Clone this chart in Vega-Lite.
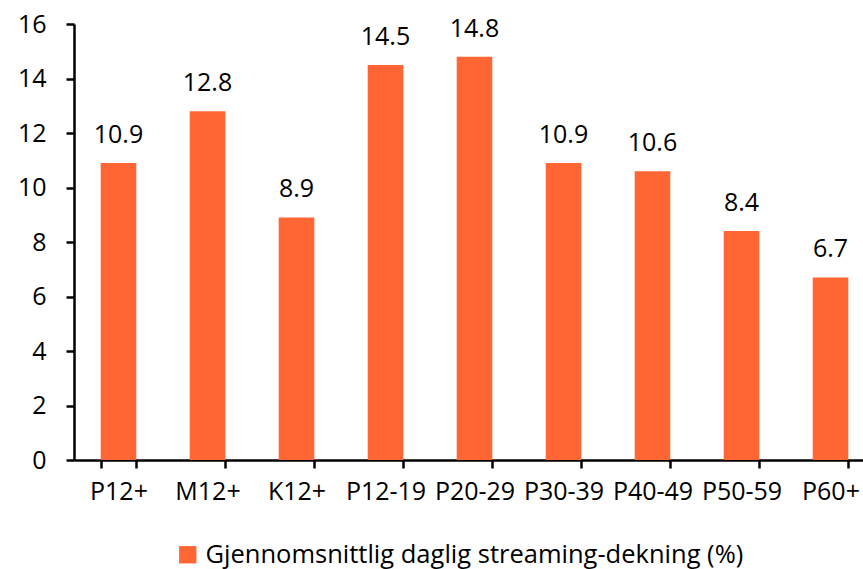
{
  "$schema": "https://vega.github.io/schema/vega-lite/v6.json",
  "autosize": {"type": "none"},
  "padding": {"left": 74, "top": 24, "right": 0, "bottom": 109},
  "width": 801,
  "height": 436,
  "background": "white",
  "config": {
    "view": {"stroke": null},
    "font": "Open Sans",
    "axis": {"grid": false, "domainColor": "black", "tickColor": "black", "labelColor": "black", "labelFont": "Open Sans", "labelFontSize": 25, "domainWidth": 2.5, "tickWidth": 2.5}
  },
  "data": {
    "values": [
      {"group": "P12+", "value": 10.9, "series": "Gjennomsnittlig daglig streaming-dekning (%)"},
      {"group": "M12+", "value": 12.8, "series": "Gjennomsnittlig daglig streaming-dekning (%)"},
      {"group": "K12+", "value": 8.9, "series": "Gjennomsnittlig daglig streaming-dekning (%)"},
      {"group": "P12-19", "value": 14.5, "series": "Gjennomsnittlig daglig streaming-dekning (%)"},
      {"group": "P20-29", "value": 14.8, "series": "Gjennomsnittlig daglig streaming-dekning (%)"},
      {"group": "P30-39", "value": 10.9, "series": "Gjennomsnittlig daglig streaming-dekning (%)"},
      {"group": "P40-49", "value": 10.6, "series": "Gjennomsnittlig daglig streaming-dekning (%)"},
      {"group": "P50-59", "value": 8.4, "series": "Gjennomsnittlig daglig streaming-dekning (%)"},
      {"group": "P60+", "value": 6.7, "series": "Gjennomsnittlig daglig streaming-dekning (%)"}
    ]
  },
  "encoding": {
    "x": {
      "field": "group", "type": "nominal", "sort": null,
      "scale": {"paddingInner": 0.6, "paddingOuter": 0.3},
      "axis": {"title": null, "labelAngle": 0, "tickBand": "extent", "tickSize": 8, "labelPadding": 11}
    },
    "y": {
      "field": "value", "type": "quantitative",
      "scale": {"domain": [0, 16], "nice": false},
      "axis": {"title": null, "values": [0, 2, 4, 6, 8, 10, 12, 14, 16], "tickSize": 8, "labelPadding": 20}
    }
  },
  "layer": [
    {
      "mark": {"type": "bar"},
      "encoding": {
        "color": {
          "field": "series", "type": "nominal",
          "scale": {"range": ["#FF6633"]},
          "legend": {
            "title": null, "orient": "none", "legendX": 101, "legendY": 518,
            "symbolType": "square", "symbolSize": 300, "symbolStrokeWidth": 0,
            "labelFontSize": 25.5, "labelFont": "Open Sans", "labelColor": "black", "labelLimit": 800, "labelOffset": 5
          }
        }
      }
    },
    {
      "mark": {"type": "text", "baseline": "alphabetic", "dy": -20, "fontSize": 25, "font": "Open Sans", "color": "black"},
      "encoding": {"text": {"field": "value", "type": "quantitative", "format": ".1f"}}
    }
  ]
}
